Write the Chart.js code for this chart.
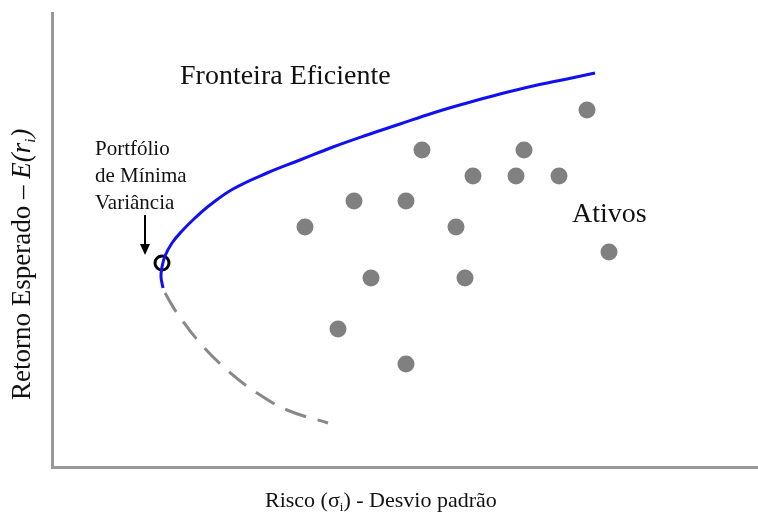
<!DOCTYPE html>
<html>
<head>
<meta charset="utf-8">
<script src="https://cdn.jsdelivr.net/npm/chart.js@4/dist/chart.umd.min.js"></script>
<style>
  html, body { margin: 0; padding: 0; background: #fff; }
</style>
</head>
<body>
<canvas id="stage1" width="758" height="512"></canvas>
<script>
// ativos (risco, retorno)
var assetRisk   = [535, 370, 472, 421, 464, 507, 302, 354, 253, 404, 557, 319, 413, 286, 354];
var assetReturn = [357, 317, 317, 291, 291, 291, 266, 266, 240, 240, 215, 189, 189, 138, 103];

// fronteira eficiente (parte superior, azul)
var frontierRisk   = [111, 109, 110, 113, 120, 130, 143, 158, 181, 215, 248, 281, 315, 348, 381, 415, 448, 481, 515, 543];
var frontierReturn = [179, 190, 200, 211, 224, 236, 249, 262, 278, 294, 307, 320, 332, 343, 354, 364, 373, 381, 388, 394];

// parte inferior (tracejada)
var lowerRisk   = [113, 125, 148, 175, 205, 235, 276];
var lowerReturn = [174, 154, 124,  97,  74,  57,  44];

// portfolio de minima variancia
var minVar = [110, 204];
var arrowFrom = [93, 252];
var arrowTo = [93, 212];

function pairs(xs, ys) {
  var out = [];
  for (var i = 0; i < xs.length; i++) out.push({x: xs[i], y: ys[i]});
  return out;
}

var serif = '"Liberation Serif", "DejaVu Serif", serif';

var labelsPlugin = {
  id: 'labels',
  afterDraw: function(chart) {
    var ctx = chart.ctx;
    var sx = chart.scales.x, sy = chart.scales.y;
    ctx.save();
    ctx.fillStyle = '#111';
    ctx.textAlign = 'left';
    ctx.textBaseline = 'alphabetic';

    ctx.font = '28px ' + serif;
    ctx.fillText('Fronteira Eficiente', 180, 84);
    ctx.fillText('Ativos', 572, 222);

    ctx.font = '21px ' + serif;
    ctx.fillText('Portfólio', 95, 155);
    ctx.fillText('de Mínima', 95, 182);
    ctx.fillText('Variância', 95, 209);

    // seta
    var ax = sx.getPixelForValue(arrowFrom[0]);
    var ay1 = sy.getPixelForValue(arrowFrom[1]);
    var ay2 = sy.getPixelForValue(arrowTo[1]);
    ctx.strokeStyle = '#000';
    ctx.lineWidth = 2;
    ctx.beginPath();
    ctx.moveTo(ax, ay1);
    ctx.lineTo(ax, ay2 - 8);
    ctx.stroke();
    ctx.fillStyle = '#000';
    ctx.beginPath();
    ctx.moveTo(ax - 5, ay2 - 11);
    ctx.lineTo(ax + 5, ay2 - 11);
    ctx.lineTo(ax, ay2);
    ctx.closePath();
    ctx.fill();

    // titulo eixo x
    ctx.fillStyle = '#111';
    var x = 265, base = 507;
    ctx.font = '22px ' + serif;
    ctx.fillText('Risco (σ', x, base);
    x += ctx.measureText('Risco (σ').width;
    ctx.font = '13px ' + serif;
    ctx.fillText('i', x, base + 4);
    x += ctx.measureText('i').width;
    ctx.font = '22px ' + serif;
    ctx.fillText(') - Desvio padrão', x, base);

    // titulo eixo y
    ctx.translate(30, 400);
    ctx.rotate(-Math.PI / 2);
    var p = 0;
    ctx.font = '27px ' + serif;
    ctx.fillText('Retorno Esperado – ', p, 0);
    p += ctx.measureText('Retorno Esperado – ').width;
    ctx.font = 'italic 27px ' + serif;
    ctx.fillText('E(r', p, 0);
    p += ctx.measureText('E(r').width;
    ctx.font = 'italic 15px ' + serif;
    ctx.fillText('i', p, 5);
    p += ctx.measureText('i').width + 1;
    ctx.font = 'italic 27px ' + serif;
    ctx.fillText(')', p, 0);
    ctx.restore();
  }
};

var chart = new Chart(document.getElementById('stage1'), {
  type: 'scatter',
  data: {
    datasets: [{
      data: pairs(lowerRisk, lowerReturn),
      showLine: true,
      borderColor: '#888888',
      borderWidth: 3,
      borderDash: [22, 12],
      tension: 0.4,
      pointRadius: 0
    }, {
      data: pairs(frontierRisk, frontierReturn),
      showLine: true,
      borderColor: '#1010f0',
      borderWidth: 3,
      tension: 0.4,
      pointRadius: 0
    }, {
      data: pairs(assetRisk, assetReturn),
      pointRadius: 8.5,
      pointBackgroundColor: '#808080',
      pointBorderWidth: 0
    }, {
      data: [{x: minVar[0], y: minVar[1]}],
      pointRadius: 7,
      pointBackgroundColor: 'rgba(0,0,0,0)',
      pointBorderColor: '#000',
      pointBorderWidth: 3
    }]
  },
  options: {
    responsive: false,
    animation: false,
    layout: { autoPadding: false, padding: { left: 52, top: 13, right: 0, bottom: 45 } },
    plugins: {
      legend: { display: false },
      tooltip: { enabled: false }
    },
    scales: {
      x: {
        type: 'linear',
        min: 0,
        max: 706,
        grid: { display: false },
        ticks: { display: false },
        border: { color: '#999', width: 3 },
        afterFit: function(s) { s.height = 0; }
      },
      y: {
        min: 0,
        max: 454,
        grid: { display: false },
        ticks: { display: false },
        border: { color: '#999', width: 3 },
        afterFit: function(s) { s.width = 0; }
      }
    }
  },
  plugins: [labelsPlugin]
});
</script>
</body>
</html>
